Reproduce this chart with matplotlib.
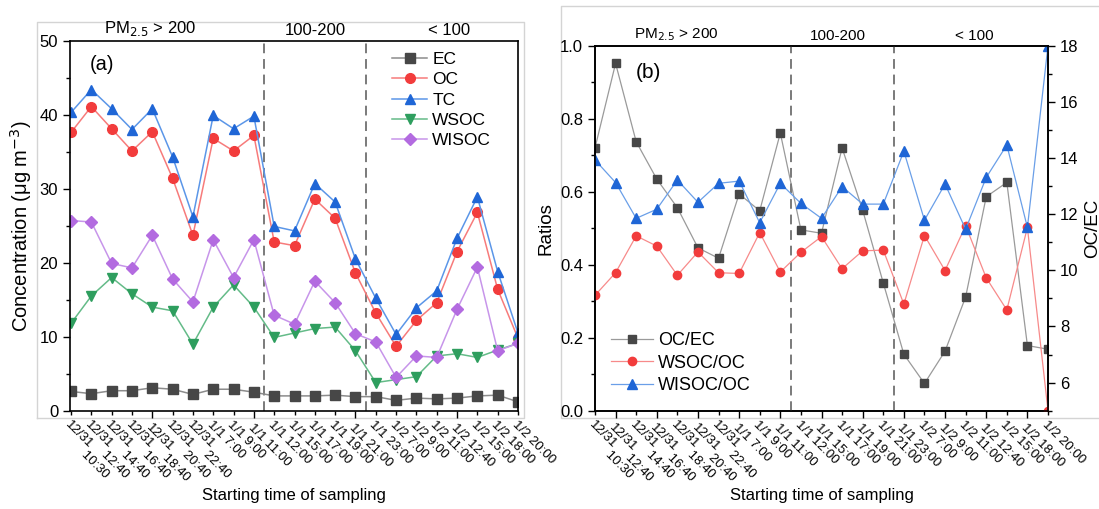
import matplotlib
matplotlib.use("Agg")
import numpy as np
import matplotlib.pyplot as plt
from matplotlib.ticker import FixedLocator, MultipleLocator
from matplotlib.lines import Line2D

plt.rcParams['font.family'] = ['Liberation Sans', 'DejaVu Sans']

# sampling start times
pad = " " * 9
labels = ["12/31\n" + pad + "10:30", "12/31\n" + pad + "12:40", "12/31\n" + pad + "14:40",
          "12/31\n" + pad + "16:40", "12/31\n" + pad + "18:40", "12/31\n" + pad + "20:40",
          "12/31\n" + pad + "22:40",
          "1/1 7:00", "1/1 9:00", "1/1 11:00", "1/1 12:00", "1/1 15:00", "1/1 17:00",
          "1/1 19:00", "1/1 21:00", "1/1 23:00", "1/2 7:00", "1/2 9:00", "1/2 11:00",
          "1/2 12:40", "1/2 15:00", "1/2 18:00", "1/2 20:00"]

# (a) concentrations, ug m-3
EC = [2.6, 2.3, 2.7, 2.7, 3.1, 2.9, 2.2, 2.9, 2.9, 2.5, 2.0, 2.0, 2.0, 2.1, 1.9,
      1.9, 1.4, 1.7, 1.6, 1.7, 2.0, 2.1, 1.2]
OC = [37.6, 41.1, 38.1, 35.1, 37.7, 31.4, 23.7, 36.8, 35.1, 37.2, 22.8, 22.3, 28.6,
      26.0, 18.6, 13.2, 8.7, 12.2, 14.6, 21.5, 26.8, 16.4, 9.8]
TC = [40.3, 43.4, 40.8, 38.0, 40.8, 34.3, 26.2, 39.9, 38.1, 39.8, 24.9, 24.3, 30.7,
      28.2, 20.5, 15.2, 10.3, 13.9, 16.2, 23.3, 28.9, 18.8, 10.5]
WSOC = [11.8, 15.5, 18.0, 15.8, 14.0, 13.5, 9.0, 14.0, 17.0, 14.0, 9.9, 10.5, 11.1,
        11.3, 8.1, 3.8, 4.2, 4.6, 7.4, 7.7, 7.2, 8.2, 9.1]
WISOC = [25.7, 25.5, 19.9, 19.3, 23.7, 17.8, 14.7, 23.1, 18.0, 23.1, 12.9, 11.7, 17.5,
         14.6, 10.4, 9.3, 4.5, 7.4, 7.2, 13.7, 19.4, 8.1, 9.1]

# (b) ratios
OC_EC = [14.36, 17.37, 14.58, 13.25, 12.23, 10.8, 10.43, 12.72, 12.12, 14.89, 11.44,
         11.32, 14.36, 12.14, 9.55, 7.01, 5.97, 7.12, 9.05, 12.62, 13.13, 7.32, 7.19]
WSOC_OC = [0.316, 0.378, 0.479, 0.451, 0.371, 0.435, 0.378, 0.376, 0.488, 0.380, 0.434,
           0.477, 0.389, 0.438, 0.440, 0.292, 0.480, 0.384, 0.507, 0.364, 0.276, 0.502, 0.0]
WISOC_OC = [0.687, 0.625, 0.527, 0.552, 0.632, 0.571, 0.623, 0.629, 0.515, 0.623, 0.568,
            0.527, 0.614, 0.566, 0.566, 0.711, 0.522, 0.621, 0.497, 0.639, 0.728, 0.502, 1.0]

groups = ["PM$_{2.5}$ > 200", "100-200", "< 100"]
group_bounds = [9.5, 14.5]

x = np.arange(len(labels))

fig = plt.figure(figsize=(10.99, 5.09), dpi=100)

# light Origin-style layer frames
frame_c = '#d4d4d4'
fig.add_artist(Line2D([36.7/1099, 36.7/1099, 524.3/1099, 524.3/1099, 36.7/1099],
                      [1-418/509, 1-22/509, 1-22/509, 1-418/509, 1-418/509],
                      color=frame_c, lw=1, zorder=-5))
fig.add_artist(Line2D([1.0, 560.7/1099, 560.7/1099, 1.0],
                      [1-5.7/509, 1-5.7/509, 1-418/509, 1-418/509],
                      color=frame_c, lw=1, zorder=-5))

ax1 = fig.add_axes([70/1099, 1-410.7/509, 448/1099, 370/509])
ax2 = fig.add_axes([595/1099, 1-410.7/509, 453/1099, 365/509])
ax3 = ax2.twinx()

series_a = [
    (EC, 'EC', 's', '#474747', '#8c8c8c'),
    (OC, 'OC', 'o', '#f23c3c', '#f77b7b'),
    (TC, 'TC', '^', '#1f66d6', '#5b96e8'),
    (WSOC, 'WSOC', 'v', '#2e9e5e', '#64bb88'),
    (WISOC, 'WISOC', 'D', '#b36be0', '#c795ea'),
]
for y, name, m, mc, lc in series_a:
    ms = 6 if m == 'D' else 7
    ax1.plot(x, y, color=lc, lw=1.1, marker=m, ms=ms, mfc=mc, mec=mc, label=name)

ax1.set_xlim(-0.05, 22)
ax1.set_ylim(0, 50)
ax1.yaxis.set_major_locator(MultipleLocator(10))
ax1.yaxis.set_minor_locator(MultipleLocator(5))
ax1.set_ylabel("Concentration (μg m$^{-3}$)", fontsize=14.5, labelpad=4)
ax1.text(0.045, 0.92, "(a)", transform=ax1.transAxes, fontsize=14.5)
ax1.legend(loc='upper right', bbox_to_anchor=(0.975, 1.012), frameon=False,
           fontsize=12.5, handlelength=2.0, labelspacing=0.3, handletextpad=0.3)

# (b)
ax3.plot(x, OC_EC, color='#9a9a9a', lw=0.9, marker='s', ms=5.5, mfc='#474747',
         mec='#474747', label='OC/EC')
ax2.plot(x, WSOC_OC, color='#f78a8a', lw=0.9, marker='o', ms=6, mfc='#f23c3c',
         mec='#f23c3c', label='WSOC/OC')
ax2.plot(x, WISOC_OC, color='#6a9fe8', lw=0.9, marker='^', ms=6.5, mfc='#1f66d6',
         mec='#1f66d6', label='WISOC/OC')
ax2.set_xlim(0, 22)
ax2.set_ylim(0, 1.0)
ax3.set_ylim(5, 18)
ax2.yaxis.set_major_locator(MultipleLocator(0.2))
ax2.yaxis.set_minor_locator(MultipleLocator(0.1))
ax2.yaxis.set_major_formatter(plt.FuncFormatter(lambda v, p: f"{v:.1f}"))
ax3.yaxis.set_major_locator(FixedLocator([6, 8, 10, 12, 14, 16, 18]))
ax3.yaxis.set_minor_locator(MultipleLocator(1))
ax2.set_ylabel("Ratios", fontsize=13.5, labelpad=4)
ax3.set_ylabel("OC/EC", fontsize=13.5, labelpad=4)
ax2.text(0.09, 0.912, "(b)", transform=ax2.transAxes, fontsize=15)
h1, l1 = ax3.get_legend_handles_labels()
h2, l2 = ax2.get_legend_handles_labels()
ax2.legend(h1 + h2, l1 + l2, loc='lower left', bbox_to_anchor=(0.0, 0.0),
           frameon=False, fontsize=13, handlelength=2.3, labelspacing=0.32,
           handletextpad=0.3)
ax2.set_zorder(ax3.get_zorder() + 1)
ax2.patch.set_visible(False)

for ax, long_ticks, gfs in [(ax1, [4, 9, 14, 19], 12), (ax2, list(range(1, 23, 2)), 11)]:
    short_ticks = [i for i in x if i not in long_ticks]
    ax.xaxis.set_major_locator(FixedLocator(long_ticks))
    ax.xaxis.set_minor_locator(FixedLocator(short_ticks))
    ax.set_xticklabels([labels[i] for i in long_ticks])
    ax.set_xticklabels([labels[i] for i in short_ticks], minor=True)
    for t in ax.get_xticklabels(which='both'):
        t.set_rotation(-45)
        t.set_ha('left')
        t.set_va('top')
        t.set_rotation_mode('anchor')
        t.set_fontsize(9.5)
        t.set_linespacing(0.75)
    ax.tick_params(axis='x', which='major', length=5, width=1, pad=3)
    ax.tick_params(axis='x', which='minor', length=3, width=1, pad=3)
    ax.tick_params(axis='y', which='major', length=5, width=1, labelsize=12)
    ax.tick_params(axis='y', which='minor', length=3, width=1)
    ax.set_xlabel("Starting time of sampling", fontsize=12, labelpad=3)
    for s in ax.spines.values():
        s.set_linewidth(1.2)
    for b in group_bounds:
        ax.axvline(b, color='#7a7a7a', ls=(0, (5, 3)), lw=1.4, zorder=0)
    # group labels above the axes
    centers = [3.9, 12.0, 18.6] if ax is ax1 else [3.95, 11.8, 18.4]
    for c, g in zip(centers, groups):
        ax.text(c, 1.008, g, transform=ax.get_xaxis_transform(), ha='center',
                va='bottom', fontsize=gfs)

ax3.tick_params(axis='y', which='major', length=5, width=1, labelsize=12)
ax3.tick_params(axis='y', which='minor', length=3, width=1)
for s in ax3.spines.values():
    s.set_linewidth(1.2)

fig.savefig("out.png", dpi=100)
